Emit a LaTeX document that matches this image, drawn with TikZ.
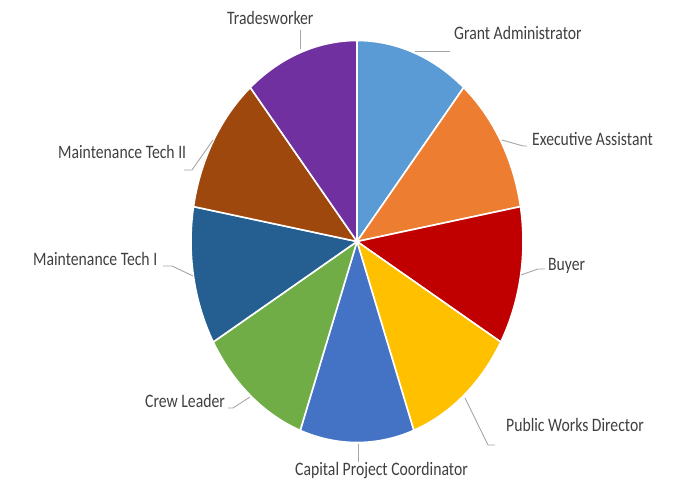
\documentclass[tikz,border=0pt]{standalone}
\usepackage{fontspec}
\setmainfont{Carlito}
\usepackage{graphicx}
\definecolor{cGA}{HTML}{5B9BD5}
\definecolor{cEA}{HTML}{ED7D31}
\definecolor{cBU}{HTML}{C00000}
\definecolor{cPW}{HTML}{FFC000}
\definecolor{cCP}{HTML}{4472C4}
\definecolor{cCL}{HTML}{70AD47}
\definecolor{cMA}{HTML}{255E91}
\definecolor{cMB}{HTML}{9E480E}
\definecolor{cTW}{HTML}{7030A0}
\definecolor{txt}{HTML}{404040}
\definecolor{lead}{HTML}{A6A6A6}
\newcommand{\stretchlab}[1]{\scalebox{1}[1.21]{#1}}
\begin{document}
\begin{tikzpicture}[x=1pt,y=1pt,
  lbl/.style={font=\fontsize{15.7}{18}\selectfont, text=txt, inner sep=0pt, anchor=base west},
  leader/.style={draw=lead, line width=0.9pt},
  slice/.style={draw=white, line width=1.6pt, line join=round}]
\useasboundingbox[fill=white] (0,0) rectangle (681,485);
\begin{scope}[shift={(357,243.5)}]
\foreach \c [count=\i from 0] in {cGA,cEA,cBU,cPW,cCP,cCL,cMA,cMB,cTW} {
  \filldraw[slice, fill=\c] (0,0) -- ({90-40*\i}:166pt and 201pt)
    arc[start angle={90-40*\i}, end angle={50-40*\i}, x radius=166pt, y radius=201pt] -- cycle;
}
\end{scope}
% labels
\node[lbl] (tw) at (227,485-25) {\stretchlab{Tradesworker}};
\node[lbl] (ga) at (454,485-39.3) {\stretchlab{Grant Administrator}};
\node[lbl] (ea) at (532,485-145.7) {\stretchlab{Executive Assistant}};
\node[lbl] (bu) at (548,485-270.7) {\stretchlab{Buyer}};
\node[lbl] (pw) at (506,485-431.7) {\stretchlab{Public Works Director}};
\node[lbl] (cp) at (295,485-475.7) {\stretchlab{Capital Project Coordinator}};
\node[lbl] (cl) at (145,485-407.7) {\stretchlab{Crew Leader}};
\node[lbl] (ma) at (33,485-266) {\stretchlab{Maintenance Tech I}};
\node[lbl] (mb) at (58,485-158.3) {\stretchlab{Maintenance Tech II}};
% leader points
\coordinate (twA) at (300,485-30);  \coordinate (twB) at (300,485-49);
\coordinate (gaA) at (450,485-51);  \coordinate (gaB) at (415,485-51);
\coordinate (eaA) at (527,485-146); \coordinate (eaK) at (523,485-146); \coordinate (eaB) at (502,485-140);
\coordinate (buA) at (545,485-269); \coordinate (buK) at (538,485-269); \coordinate (buB) at (521,485-275);
\coordinate (pwA) at (495,485-445); \coordinate (pwK) at (488,485-445); \coordinate (pwB) at (465,485-398);
\coordinate (cpA) at (358,485-462); \coordinate (cpB) at (358,485-444);
\coordinate (clA) at (228,485-408); \coordinate (clK) at (233,485-408); \coordinate (clB) at (250,485-397);
\coordinate (maA) at (163,485-266); \coordinate (maK) at (172,485-266); \coordinate (maB) at (193,485-276);
\coordinate (mbA) at (184,485-170); \coordinate (mbK) at (192,485-170); \coordinate (mbB) at (213,485-140);
\draw[leader] (twA) -- (twB);
\draw[leader] (gaA) -- (gaB);
\draw[leader] (eaA) -- (eaK) -- (eaB);
\draw[leader] (buA) -- (buK) -- (buB);
\draw[leader] (pwA) -- (pwK) -- (pwB);
\draw[leader] (cpA) -- (cpB);
\draw[leader] (clA) -- (clK) -- (clB);
\draw[leader] (maA) -- (maK) -- (maB);
\draw[leader] (mbA) -- (mbK) -- (mbB);
\end{tikzpicture}
\end{document}
